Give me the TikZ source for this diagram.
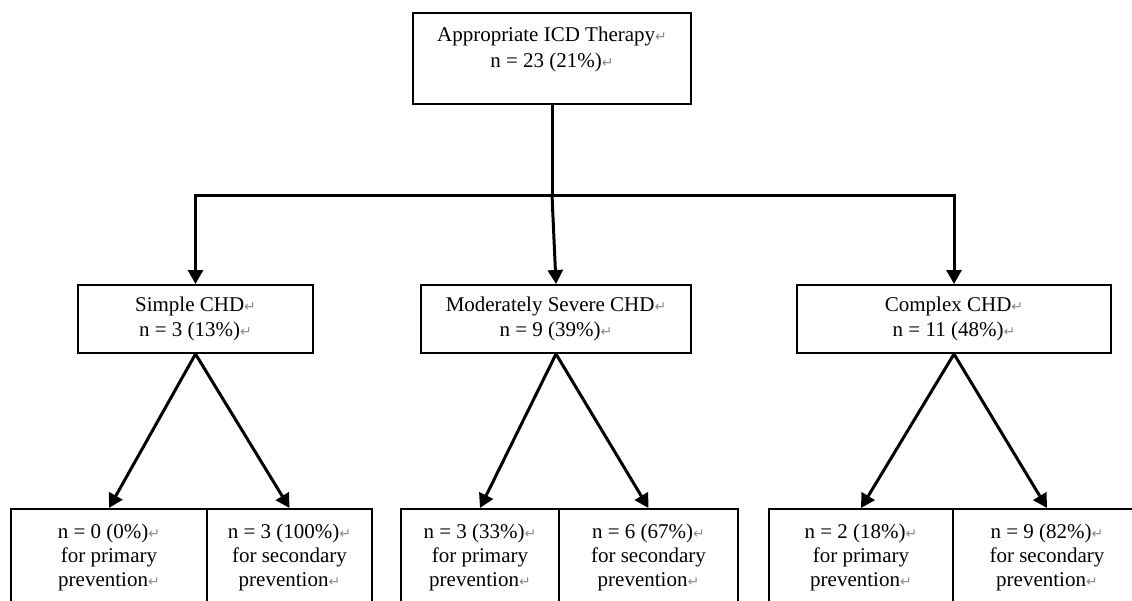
\documentclass[tikz,border=0pt]{standalone}
\usepackage{fontspec}
\setmainfont{Liberation Serif}
\newfontfamily\retfont{DejaVu Sans}
\usetikzlibrary{arrows.meta}
\newcommand\rmk{{\retfont\fontsize{14}{14}\selectfont\textcolor{black!45}{↵}}}
\begin{document}
\begin{tikzpicture}[x=1pt,y=-1pt,
  box/.style={draw, line width=2pt, minimum height=68pt, inner sep=0pt, align=center,
    font=\fontsize{21}{25.5}\selectfont},
  leaf/.style={box, minimum height=96pt, font=\fontsize{21}{24}\selectfont},
  txt/.style={inner sep=0pt, align=center, font=\fontsize{21}{25.5}\selectfont},
  arr/.style={line width=3pt, -{Triangle[length=14pt,width=15pt]}},
  link/.style={line width=3pt}]
\useasboundingbox (0,0) rectangle (1132,600);
\fill[white] (0,0) rectangle (1132,600);
\clip (0,0) rectangle (1132,600);

\node[box, minimum width=278pt, minimum height=91pt] (top) at (552,58.5) {};
\node[txt] (toptxt) at (552,49.5) {Appropriate ICD Therapy\rmk\\ n = 23 (21\%)\rmk};

\node[box, minimum width=235pt] (simple) at (195.5,319) {Simple CHD\rmk\\ n = 3 (13\%)\rmk};
\node[box, minimum width=270pt] (moderate) at (556,319) {Moderately Severe CHD\rmk\\ n = 9 (39\%)\rmk};
\node[box, minimum width=314pt] (complex) at (954,319) {Complex CHD\rmk\\ n = 11 (48\%)\rmk};

\node[leaf, minimum width=196pt] (b1) at (109,557) {n = 0 (0\%)\rmk\\ for primary\\ prevention\rmk};
\node[leaf, minimum width=165pt] (b2) at (289.5,557) {n = 3 (100\%)\rmk\\ for secondary\\ prevention\rmk};
\node[leaf, minimum width=158pt] (b3) at (480,557) {n = 3 (33\%)\rmk\\ for primary\\ prevention\rmk};
\node[leaf, minimum width=179pt] (b4) at (648.5,557) {n = 6 (67\%)\rmk\\ for secondary\\ prevention\rmk};
\node[leaf, minimum width=184pt] (b5) at (861,557) {n = 2 (18\%)\rmk\\ for primary\\ prevention\rmk};
\node[leaf, minimum width=188pt] (b6) at (1047,557) {n = 9 (82\%)\rmk\\ for secondary\\ prevention\rmk};

\coordinate (hub) at (552,195);
\draw[link] (top.south) -- (hub);
\draw[arr] (hub) -| (simple.north);
\draw[arr] (hub) -- (moderate.north);
\draw[arr] (hub) -| (complex.north);

\draw[arr] (simple.south) -- (b1.north);
\draw[arr] (simple.south) -- (b2.north);
\draw[arr] (moderate.south) -- (b3.north);
\draw[arr] (moderate.south) -- (b4.north);
\draw[arr] (complex.south) -- (b5.north);
\draw[arr] (complex.south) -- (b6.north);
\end{tikzpicture}
\end{document}
